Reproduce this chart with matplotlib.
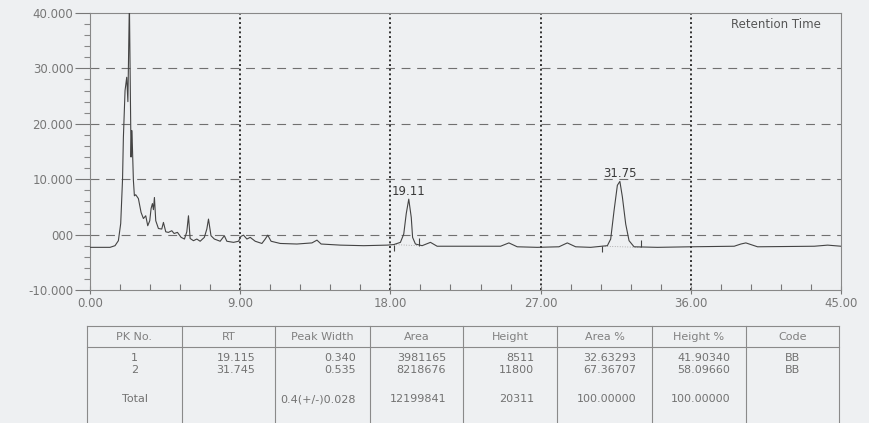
import numpy as np
import matplotlib
matplotlib.use("Agg")
import matplotlib.pyplot as plt
from matplotlib.ticker import MultipleLocator, FixedLocator, FixedFormatter

plt.rcParams['font.family'] = ['DejaVu Sans']

# Chromatogram trace (min, mV)
time = [0.0, 1.2, 1.5, 1.7, 1.84, 1.95, 2.0, 2.1, 2.2, 2.27, 2.36, 2.42, 2.46, 2.5, 2.53,
        2.6, 2.66, 2.74, 2.9, 3.06, 3.2, 3.34, 3.46, 3.58, 3.66, 3.74, 3.8, 3.86, 3.94,
        4.1, 4.3, 4.4, 4.54, 4.7, 4.9, 5.04, 5.24, 5.46, 5.66, 5.8, 5.9, 6.0, 6.2, 6.4,
        6.6, 6.85, 7.0, 7.1, 7.25, 7.45, 7.8, 8.05, 8.2, 8.6, 8.9, 9.05, 9.2, 9.4, 9.6,
        9.9, 10.3, 10.5, 10.65, 10.85, 11.4, 12.4, 13.3, 13.6, 13.85, 15.0, 16.4, 17.8,
        18.2, 18.6, 18.8, 18.95, 19.1, 19.25, 19.33, 19.5, 19.9, 20.4, 20.8, 22.2, 24.6,
        25.1, 25.6, 26.8, 28.1, 28.6, 29.1, 30.0, 31.0, 31.2, 31.4, 31.6, 31.75, 31.9,
        32.1, 32.3, 32.6, 34.0, 36.0, 38.6, 39.0, 39.3, 39.6, 40.0, 43.4, 44.2, 45.0]
signal = [-2.3, -2.3, -2.0, -1.1, 2.0, 10.0, 17.5, 26.0, 28.4, 24.0, 42.0, 25.0, 14.0, 18.8, 17.0,
          9.8, 7.0, 7.2, 6.5, 4.0, 2.9, 3.4, 1.6, 2.5, 4.7, 5.6, 4.5, 6.7, 2.5,
          1.1, 1.0, 2.2, 0.5, 0.4, 0.7, 0.2, 0.4, -0.5, -0.8, 0.5, 3.4, -0.7, -1.1, -0.8,
          -1.2, -0.5, 1.0, 2.8, -0.2, -0.8, -1.2, -0.2, -1.2, -1.4, -1.2, -0.3, -0.1, -0.8, -0.5,
          -1.2, -1.6, -0.8, -0.1, -1.2, -1.6, -1.7, -1.5, -1.0, -1.7, -1.9, -2.0, -1.9,
          -1.8, -1.4, 0.1, 3.8, 6.4, 3.1, -0.5, -1.7, -2.0, -1.4, -2.1, -2.1, -2.1,
          -1.5, -2.2, -2.3, -2.2, -1.5, -2.2, -2.3, -2.0, -0.8, 4.3, 8.9, 9.6, 6.8,
          1.9, -1.1, -2.2, -2.3, -2.2, -2.1, -1.7, -1.5, -1.8, -2.2, -2.1, -1.9, -2.1]

# integrated peaks
peak_rt = [19.11, 31.75]
peak_top = [6.4, 9.6]
peak_label = ['19.11', '31.75']
peak_start = [18.2, 30.7]
peak_end = [19.7, 33.0]
start_base = [-1.8, -2.1]
end_base = [-2.0, -2.3]

x_ticks = [0, 9, 18, 27, 36, 45]
x_labels = ['0.00', '9.00', '18.00', '27.00', '36.00', '45.00']
y_ticks = [-10, 0, 10, 20, 30, 40]
y_labels = ['-10.000', '000', '10.000', '20.000', '30.000', '40.000']

# result table
headers = ['PK No.', 'RT', 'Peak Width', 'Area', 'Height', 'Area %', 'Height %', 'Code']
pk_no = ['1', '2']
rt = ['19.115', '31.745']
peak_width = ['0.340', '0.535']
area = ['3981165', '8218676']
height = ['8511', '11800']
area_pct = ['32.63293', '67.36707']
height_pct = ['41.90340', '58.09660']
code = ['BB', 'BB']
total_row = ['Total', '', '0.4(+/-)0.028', '12199841', '20311', '100.00000', '100.00000', '']

bg = '#eef0f2'
fig = plt.figure(figsize=(8.69, 4.23), dpi=100, facecolor=bg)
ax = fig.add_axes([90/869, 133/423, 751/869, 277/423])
ax.set_facecolor(bg)

# grid
for v in y_ticks[1:-1]:
    ax.axhline(v, color='#707070', lw=0.8, dashes=(8, 6), zorder=1)
for t in x_ticks[1:-1]:
    ax.axvline(t, color='#333333', lw=1.4, linestyle=(0, (1, 1.4)), zorder=1)

ax.plot(time, signal, color='#444444', lw=0.8, zorder=3)

for i in range(len(peak_rt)):
    ax.plot([peak_start[i], peak_end[i]], [start_base[i], end_base[i]],
            color='#999999', lw=0.6, linestyle=(0, (1, 2)), zorder=2)
    ax.vlines(peak_start[i], start_base[i] - 1.1, start_base[i], color='#444444', lw=0.8)
    ax.vlines(peak_end[i], end_base[i], end_base[i] + 1.4, color='#444444', lw=0.8)
    ax.annotate(peak_label[i], (peak_rt[i], peak_top[i]), xytext=(0, 1),
                textcoords='offset points', ha='center', va='bottom',
                fontsize=8.5, color='#3a3a3a')

ax.text(0.913, 0.96, 'Retention Time', transform=ax.transAxes, ha='center', va='center',
        fontsize=8.5, color='#555555')

ax.set_xlim(0, 45)
ax.set_ylim(-10, 40)
ax.xaxis.set_major_locator(FixedLocator(x_ticks))
ax.xaxis.set_major_formatter(FixedFormatter(x_labels))
ax.xaxis.set_minor_locator(MultipleLocator(1.8))
ax.yaxis.set_major_locator(FixedLocator(y_ticks))
ax.yaxis.set_major_formatter(FixedFormatter(y_labels))
ax.yaxis.set_minor_locator(MultipleLocator(2))
ax.tick_params(axis='x', which='major', direction='inout', length=6, width=0.8,
               color='#777777', labelcolor='#777777', labelsize=8.5, pad=2)
ax.tick_params(axis='x', which='minor', direction='in', length=4, width=0.8, color='#777777')
ax.tick_params(axis='y', which='major', direction='out', length=11, width=0.8,
               color='#777777', labelcolor='#777777', labelsize=8.5, pad=1)
ax.tick_params(axis='y', which='minor', direction='out', length=4, width=0.8, color='#888888')
for s in ax.spines.values():
    s.set_color('#888888')
    s.set_linewidth(0.8)

# table drawn in pixel coordinates of the figure
tab = fig.add_axes([0, 0, 1, 1])
tab.set_xlim(0, 869)
tab.set_ylim(423, 0)
tab.axis('off')
tab.patch.set_alpha(0)

col_edges = [87, 182, 275, 370, 463, 557, 652, 746, 839]
top, head_bot, bot = 326, 347, 422
tab.plot([col_edges[0], col_edges[-1]], [top, top], color='#8a8a8a', lw=0.8)
tab.plot([col_edges[0], col_edges[-1]], [head_bot, head_bot], color='#8a8a8a', lw=0.8)
for xe in col_edges:
    tab.plot([xe, xe], [top, bot], color='#8a8a8a', lw=0.8)

centers = [(col_edges[i] + col_edges[i+1]) / 2 for i in range(8)]
for i, h in enumerate(headers):
    tab.text(centers[i], 337, h, ha='center', va='center', fontsize=8, color='#808080')

# value anchors: (x, align)
anchors = [(centers[0], 'center'), (236, 'center'), (356, 'right'), (446, 'right'),
           (534, 'right'), (636, 'right'), (730, 'right'), (centers[7], 'center')]
columns = [pk_no, rt, peak_width, area, height, area_pct, height_pct, code]
row_y = [358, 370]
for c, vals in enumerate(columns):
    xa, al = anchors[c]
    for r, v in enumerate(vals):
        tab.text(xa, row_y[r], v, ha=al, va='center', fontsize=8, color='#727272')
    if total_row[c]:
        tab.text(xa, 399, total_row[c], ha=al, va='center', fontsize=8, color='#727272')

fig.savefig('out.png', dpi=100, facecolor=bg)
